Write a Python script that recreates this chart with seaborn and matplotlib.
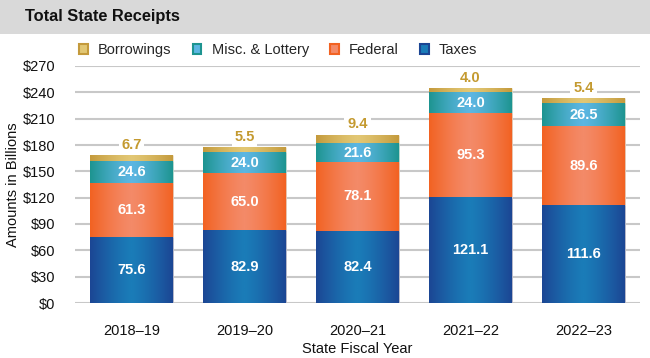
import matplotlib
matplotlib.use("Agg")
import matplotlib.pyplot as plt
import numpy as np
import pandas as pd
import seaborn as sns
from matplotlib.colors import LinearSegmentedColormap
from matplotlib.patches import Rectangle

sns.set_style("white")
plt.rcParams["font.family"] = ["Liberation Sans", "DejaVu Sans"]

years = ["2018\u201319", "2019\u201320", "2020\u201321", "2021\u201322", "2022\u201323"]
taxes = [75.6, 82.9, 82.4, 121.1, 111.6]
federal = [61.3, 65.0, 78.1, 95.3, 89.6]
misc = [24.6, 24.0, 21.6, 24.0, 26.5]
borrowings = [6.7, 5.5, 9.4, 4.0, 5.4]

# edge colour, middle colour for the "cylinder" gradient
layers = [
    ("Borrowings", borrowings, "#c49a3c", "#e2c774"),
    ("Misc. & Lottery", misc, "#1d9490", "#5cb6e2"),
    ("Federal", federal, "#f26222", "#f48a68"),
    ("Taxes", taxes, "#1c4694", "#1a7cb8"),
]

df = pd.DataFrame({"year": years, "Taxes": taxes, "Federal": federal,
                   "Misc. & Lottery": misc, "Borrowings": borrowings})
df["c_tax"] = df["Taxes"]
df["c_fed"] = df["c_tax"] + df["Federal"]
df["c_misc"] = df["c_fed"] + df["Misc. & Lottery"]
df["c_bor"] = df["c_misc"] + df["Borrowings"]
cum_cols = ["c_bor", "c_misc", "c_fed", "c_tax"]

fig = plt.figure(figsize=(6.5, 3.58), dpi=100)
ax = fig.add_axes([75 / 650, 1 - 303 / 358, 565 / 650, 237 / 358])

# header band
fig.patches.append(Rectangle((0, 1 - 34 / 358), 1, 34 / 358, transform=fig.transFigure,
                             facecolor="#d9d9d9", edgecolor="none", zorder=0))
fig.text(25 / 650, 1 - 17 / 358, "Total State Receipts", fontsize=11.8,
         fontweight="bold", va="center", ha="left", color="#111111")

prof = np.linspace(-1, 1, 200)
grad = np.abs(prof) ** 1.3
grad = np.vstack([grad, grad])

for i, ((name, vals, c_edge, c_mid), col) in enumerate(zip(layers, cum_cols)):
    before = len(ax.patches)
    sns.barplot(data=df, x="year", y=col, color=c_edge, width=0.73, ax=ax,
                saturation=1, zorder=2 + i * 2)
    cmap = LinearSegmentedColormap.from_list(name, [c_mid, c_edge])
    for p in ax.patches[before:]:
        x0, y0 = p.get_x(), p.get_y()
        w, h = p.get_width(), p.get_height()
        im = ax.imshow(grad, cmap=cmap, extent=[x0, x0 + w, y0, y0 + h],
                       aspect="auto", zorder=2 + i * 2 + 1, interpolation="bilinear")
        im.set_clip_path(p)
        p.set_edgecolor((1, 1, 1, 0.5))
        p.set_linewidth(0.6)

ax.set_xlim(-0.5, len(years) - 0.5)
ax.set_ylim(0, 270)
ax.set_yticks(np.arange(0, 271, 30))
ax.set_yticklabels([f"${v}" for v in range(0, 271, 30)])
ax.yaxis.grid(True, color="#c8c8c8", linewidth=1.5, zorder=0)
ax.set_axisbelow(True)
for s in ax.spines.values():
    s.set_visible(False)
ax.tick_params(axis="both", length=0, labelsize=10.5, colors="#111111")
ax.tick_params(axis="y", pad=14)
ax.tick_params(axis="x", pad=15)
ax.set_xlabel("State Fiscal Year", fontsize=10.5, color="#111111", labelpad=3)
ax.set_ylabel("Amounts in Billions", fontsize=10.5, color="#111111", labelpad=2)

# value labels
for j in range(len(years)):
    t, f, m, b = taxes[j], federal[j], misc[j], borrowings[j]
    lab = dict(ha="center", va="center", color="white", fontsize=10.5,
               fontweight="bold", zorder=20)
    ax.text(j, t / 2, f"{t:.1f}", **lab)
    ax.text(j, t + f / 2, f"{f:.1f}", **lab)
    ax.text(j, t + f + m / 2, f"{m:.1f}", **lab)
    ax.text(j, t + f + m + b + 12, f"{b:.1f}", ha="center", va="center",
            color="#c49a30", fontsize=10.5, fontweight="bold", zorder=20,
            bbox=dict(facecolor="white", edgecolor="none", pad=2))

handles = [Rectangle((0, 0), 1, 1, facecolor=c_mid, edgecolor=c_edge, linewidth=1.5)
           for _, _, c_edge, c_mid in layers]
fig.legend(handles, [l[0] for l in layers], loc="center left",
           bbox_to_anchor=(66 / 650, 1 - 50 / 358), ncol=4, frameon=False,
           fontsize=10.5, handlelength=0.6, handleheight=0.75, handletextpad=0.7,
           columnspacing=1.45)

fig.savefig("out.png", dpi=100)
